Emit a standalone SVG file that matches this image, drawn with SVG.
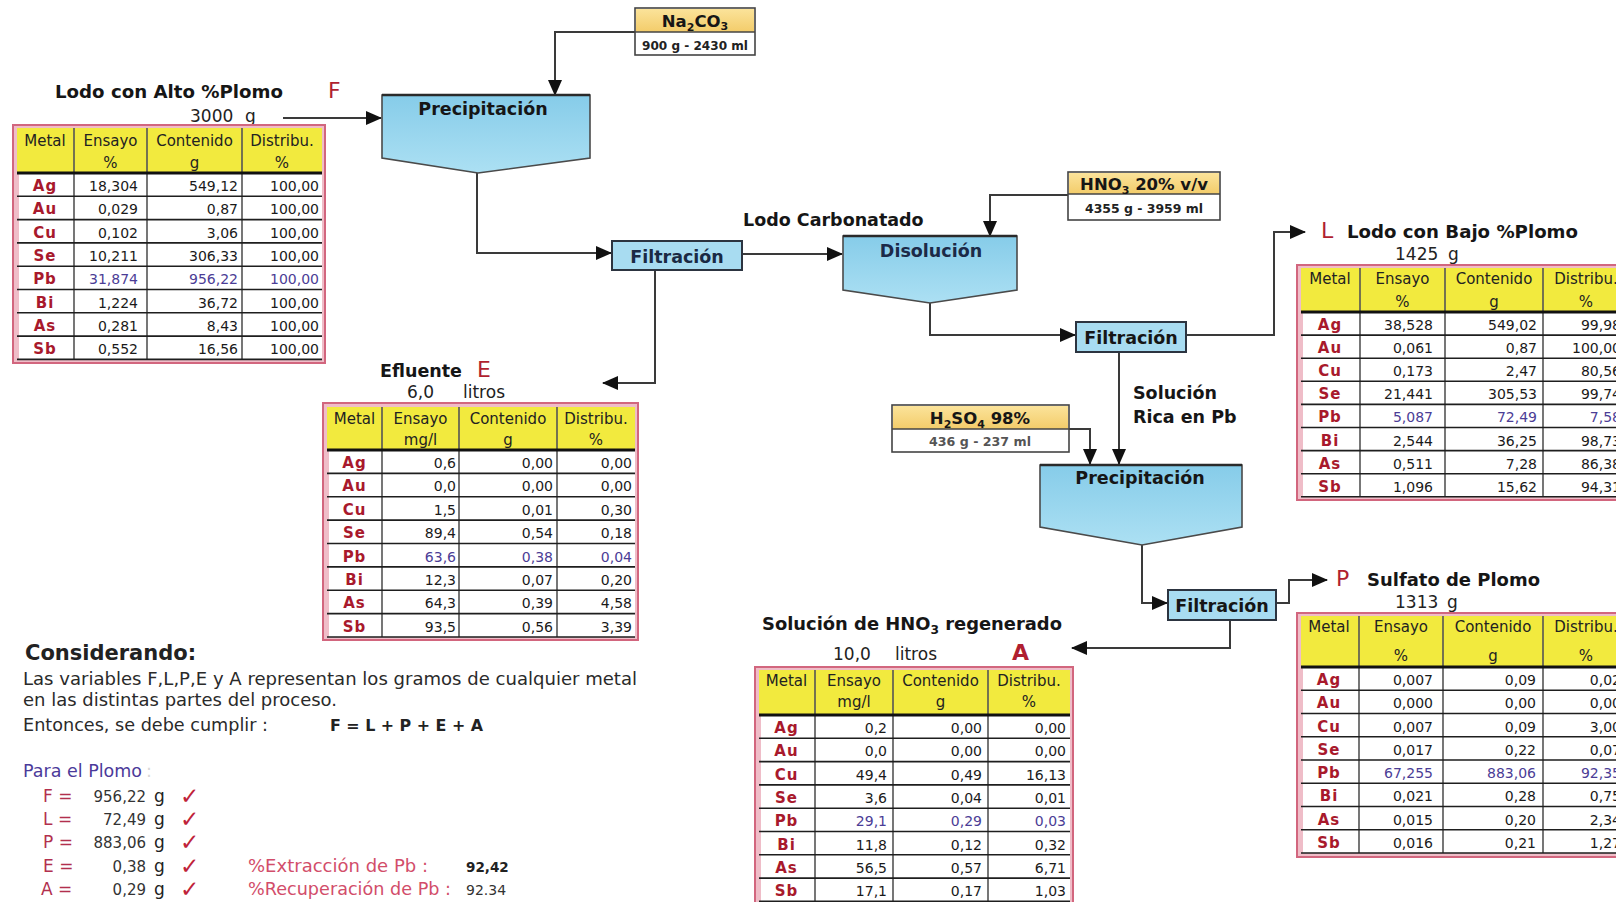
<svg xmlns="http://www.w3.org/2000/svg" width="1616" height="902" viewBox="0 0 1616 902">
<defs>
  <linearGradient id="gAzul" x1="0" y1="0" x2="0" y2="1">
    <stop offset="0" stop-color="#86cce9"/>
    <stop offset="1" stop-color="#ace0f3"/>
  </linearGradient>
  <linearGradient id="gReac" x1="0" y1="0" x2="0" y2="1">
    <stop offset="0" stop-color="#fbe39a"/>
    <stop offset="1" stop-color="#f3cc6a"/>
  </linearGradient>
  <marker id="ah" viewBox="0 0 16 14" refX="15" refY="7" markerWidth="16" markerHeight="14" markerUnits="userSpaceOnUse" orient="auto">
    <path d="M0 0L16 7L0 14z" fill="#111"/>
  </marker>
  <style>
    .ln{fill:none;stroke:#3a3a3a;stroke-width:2}
    .proc{fill:url(#gAzul);stroke:#4a4a4a;stroke-width:1.6}
    .filt{fill:#a8dcf1;stroke:#2c3440;stroke-width:2}
    .reac{fill:#fff;stroke:#444;stroke-width:1.6}
    .reacY{fill:url(#gReac)}
    .bl{font-family:"DejaVu Sans",sans-serif;font-weight:bold;font-size:17.5px;fill:#161616}
    .lt{font-family:"DejaVu Sans",sans-serif;font-size:22px;fill:#b01f30}
    .nm{font-family:"DejaVu Sans",sans-serif;font-size:17px;fill:#222}
    .rs{font-family:"DejaVu Sans",sans-serif;font-weight:bold;font-size:11.5px;fill:#222;text-anchor:middle}
    .frame{fill:#efbdc8;stroke:#d2667e;stroke-width:2}
    .hdr{fill:#f2ea3e}
    .body{fill:#fff}
    .vl{fill:none;stroke:#555;stroke-width:1.6}
    .rl{fill:none;stroke:#1e1e1e;stroke-width:1.6}
    .hl{fill:none;stroke:#111;stroke-width:3}
    .th{font-family:"DejaVu Sans",sans-serif;font-size:15px;fill:#222;text-anchor:middle}
    .mt{font-family:"DejaVu Sans",sans-serif;font-weight:bold;font-size:15px;fill:#a8192c;text-anchor:middle;letter-spacing:1px}
    .v{font-family:"DejaVu Sans",sans-serif;font-size:14px;fill:#1a1a1a;text-anchor:end}
    .pb{fill:#4b3d96}
    .tx{font-family:"DejaVu Sans",sans-serif;font-size:17.5px;fill:#2a2a2a}
    .eq{font-family:"DejaVu Sans",sans-serif;font-size:17px;fill:#b2304e}
    .ok{font-family:"DejaVu Sans",sans-serif;font-weight:bold;font-size:23px;fill:#c0233a}
    .pc{font-family:"DejaVu Sans",sans-serif;font-size:17px;fill:#d24d6a}
  </style>
</defs>
<rect width="1616" height="902" fill="#ffffff"/>

<!-- connectors -->
<g id="conectores">
  <path class="ln" d="M283 118H381" marker-end="url(#ah)"/>
  <path class="ln" d="M635 32H555V95" marker-end="url(#ah)"/>
  <path class="ln" d="M477 173V253H611" marker-end="url(#ah)"/>
  <path class="ln" d="M742 254H842" marker-end="url(#ah)"/>
  <path class="ln" d="M655 271V383H603" marker-end="url(#ah)"/>
  <path class="ln" d="M1068 195H990V236" marker-end="url(#ah)"/>
  <path class="ln" d="M930 303V335H1075" marker-end="url(#ah)"/>
  <path class="ln" d="M1186 335H1274V232H1305" marker-end="url(#ah)"/>
  <path class="ln" d="M1119 352V464" marker-end="url(#ah)"/>
  <path class="ln" d="M1069 429H1090V464" marker-end="url(#ah)"/>
  <path class="ln" d="M1142 545V603H1167" marker-end="url(#ah)"/>
  <path class="ln" d="M1276 603H1289V580H1327" marker-end="url(#ah)"/>
  <path class="ln" d="M1230 620V648H1072" marker-end="url(#ah)"/>
</g>

<!-- process units -->
<g id="precipitacion-1">
  <polygon class="proc" points="382,95 590,95 590,158 478,173 382,158"/>
  <path d="M382 95H590" stroke="#2a2a2a" stroke-width="2.5"/>
  <text class="bl" x="483" y="115" text-anchor="middle">Precipitación</text>
</g>
<g id="filtracion-1">
  <rect class="filt" x="612" y="241" width="130" height="29"/>
  <text class="bl" x="677" y="263" text-anchor="middle" style="fill:#1a2a44">Filtración</text>
</g>
<g id="disolucion">
  <polygon class="proc" points="843,236 1017,236 1017,290 930,303 843,290"/>
  <path d="M843 236H1017" stroke="#2a2a2a" stroke-width="2.5"/>
  <text class="bl" x="931" y="257" text-anchor="middle" style="fill:#1c2a48">Disolución</text>
</g>
<g id="filtracion-2">
  <rect class="filt" x="1076" y="322" width="110" height="30"/>
  <text class="bl" x="1131" y="344" text-anchor="middle">Filtración</text>
</g>
<g id="precipitacion-2">
  <polygon class="proc" points="1040,465 1242,465 1242,527 1142,545 1040,527"/>
  <path d="M1040 465H1242" stroke="#2a2a2a" stroke-width="2.5"/>
  <text class="bl" x="1140" y="484" text-anchor="middle">Precipitación</text>
</g>
<g id="filtracion-3">
  <rect class="filt" x="1168" y="590" width="108" height="30"/>
  <text class="bl" x="1222" y="612" text-anchor="middle">Filtración</text>
</g>

<!-- reagents -->
<g id="reactivo-na2co3">
  <rect class="reac" x="635" y="8" width="120" height="47"/>
  <rect class="reacY" x="636" y="9" width="118" height="23"/>
  <path d="M635 32H755" stroke="#444" stroke-width="1.4"/>
  <text class="bl" x="695" y="27" text-anchor="middle" style="font-size:16.5px">Na<tspan dy="4" font-size="11">2</tspan><tspan dy="-4">CO</tspan><tspan dy="3" font-size="11">3</tspan></text>
  <text class="rs" x="695" y="50" textLength="106" lengthAdjust="spacingAndGlyphs">900 g - 2430 ml</text>
</g>
<g id="reactivo-hno3">
  <rect class="reac" x="1068" y="172" width="152" height="48"/>
  <rect class="reacY" x="1069" y="173" width="150" height="21"/>
  <path d="M1068 194H1220" stroke="#444" stroke-width="1.4"/>
  <text class="bl" x="1144" y="190" text-anchor="middle" style="font-size:16.5px">HNO<tspan dy="4" font-size="11">3</tspan><tspan dy="-4"> 20% v/v</tspan></text>
  <text class="rs" x="1144" y="213" textLength="118" lengthAdjust="spacingAndGlyphs">4355 g - 3959 ml</text>
</g>
<g id="reactivo-h2so4">
  <rect class="reac" x="892" y="405" width="177" height="47"/>
  <rect class="reacY" x="893" y="406" width="175" height="23"/>
  <path d="M892 429H1069" stroke="#444" stroke-width="1.4"/>
  <text class="bl" x="980" y="424" text-anchor="middle" style="font-size:16.5px">H<tspan dy="4" font-size="11">2</tspan><tspan dy="-4">SO</tspan><tspan dy="4" font-size="11">4</tspan><tspan dy="-4"> 98%</tspan></text>
  <text class="rs" x="980" y="446" textLength="102" lengthAdjust="spacingAndGlyphs" style="fill:#555">436 g - 237 ml</text>
</g>

<!-- stream labels -->
<g id="etiquetas">
  <text class="bl" x="55" y="98" textLength="228" lengthAdjust="spacingAndGlyphs">Lodo con Alto %Plomo</text>
  <text class="lt" x="328" y="98">F</text>
  <text class="nm" x="190" y="122">3000</text><text class="nm" x="245" y="122">g</text>
  <text class="bl" x="743" y="226">Lodo Carbonatado</text>
  <text class="lt" x="1321" y="238">L</text>
  <text class="bl" x="1347" y="238" textLength="231" lengthAdjust="spacingAndGlyphs">Lodo con Bajo %Plomo</text>
  <text class="nm" x="1395" y="260">1425</text><text class="nm" x="1448" y="260">g</text>
  <text class="bl" x="380" y="377">Efluente</text>
  <text class="lt" x="477" y="377">E</text>
  <text class="nm" x="407" y="398">6,0</text><text class="nm" x="463" y="398">litros</text>
  <text class="bl" x="1133" y="399">Solución</text>
  <text class="bl" x="1133" y="423">Rica en Pb</text>
  <text class="lt" x="1336" y="586">P</text>
  <text class="bl" x="1367" y="586" textLength="173" lengthAdjust="spacingAndGlyphs">Sulfato de Plomo</text>
  <text class="nm" x="1395" y="608">1313</text><text class="nm" x="1447" y="608">g</text>
  <text class="bl" x="762" y="630" textLength="300" lengthAdjust="spacingAndGlyphs">Solución de HNO<tspan dy="4" font-size="12">3</tspan><tspan dy="-4"> regenerado</tspan></text>
  <text class="nm" x="833" y="660">10,0</text><text class="nm" x="895" y="660">litros</text>
  <text class="lt" x="1012" y="660" font-weight="bold">A</text>
</g>

<!-- table F -->
<g id="tabla-F">
  <rect class="frame" x="13" y="125" width="312" height="238"/>
  <rect class="hdr" x="17" y="128" width="305" height="45"/>
  <rect class="body" x="19" y="173" width="303" height="186"/>
  <path class="vl" d="M74 128V359M147 128V359M242 128V359"/>
  <path class="rl" d="M17 196.3H322M17 219.6H322M17 242.9H322M17 266.2H322M17 289.5H322M17 312.8H322M17 336.1H322M17 359.4H322"/>
  <path class="hl" d="M17 173H322"/>
  <text class="th" x="45" y="146">Metal</text>
  <text class="th" x="110.5" y="146">Ensayo</text><text class="th" x="110.5" y="168">%</text>
  <text class="th" x="194.5" y="146">Contenido</text><text class="th" x="194.5" y="168">g</text>
  <text class="th" x="282" y="146">Distribu.</text><text class="th" x="282" y="168">%</text>
  <g transform="translate(0,173)"><text class="mt" x="45" y="18">Ag</text><text class="v" x="138" y="18">18,304</text><text class="v" x="238" y="18">549,12</text><text class="v" x="319" y="18">100,00</text></g>
  <g transform="translate(0,196.3)"><text class="mt" x="45" y="18">Au</text><text class="v" x="138" y="18">0,029</text><text class="v" x="238" y="18">0,87</text><text class="v" x="319" y="18">100,00</text></g>
  <g transform="translate(0,219.6)"><text class="mt" x="45" y="18">Cu</text><text class="v" x="138" y="18">0,102</text><text class="v" x="238" y="18">3,06</text><text class="v" x="319" y="18">100,00</text></g>
  <g transform="translate(0,242.9)"><text class="mt" x="45" y="18">Se</text><text class="v" x="138" y="18">10,211</text><text class="v" x="238" y="18">306,33</text><text class="v" x="319" y="18">100,00</text></g>
  <g transform="translate(0,266.2)"><text class="mt" x="45" y="18">Pb</text><text class="v pb" x="138" y="18">31,874</text><text class="v pb" x="238" y="18">956,22</text><text class="v pb" x="319" y="18">100,00</text></g>
  <g transform="translate(0,289.5)"><text class="mt" x="45" y="18">Bi</text><text class="v" x="138" y="18">1,224</text><text class="v" x="238" y="18">36,72</text><text class="v" x="319" y="18">100,00</text></g>
  <g transform="translate(0,312.8)"><text class="mt" x="45" y="18">As</text><text class="v" x="138" y="18">0,281</text><text class="v" x="238" y="18">8,43</text><text class="v" x="319" y="18">100,00</text></g>
  <g transform="translate(0,336.1)"><text class="mt" x="45" y="18">Sb</text><text class="v" x="138" y="18">0,552</text><text class="v" x="238" y="18">16,56</text><text class="v" x="319" y="18">100,00</text></g>
</g>

<!-- table E -->
<g id="tabla-E">
  <rect class="frame" x="323" y="403" width="315" height="237"/>
  <rect class="hdr" x="327" y="407" width="308" height="43"/>
  <rect class="body" x="329" y="450" width="306" height="187"/>
  <path class="vl" d="M382 407V637M459 407V637M557 407V637"/>
  <path class="rl" d="M327 473.4H635M327 496.8H635M327 520.1H635M327 543.5H635M327 566.9H635M327 590.3H635M327 613.6H635M327 637H635"/>
  <path class="hl" d="M327 450H635"/>
  <text class="th" x="354.5" y="424">Metal</text>
  <text class="th" x="420.5" y="424">Ensayo</text><text class="th" x="420.5" y="445">mg/l</text>
  <text class="th" x="508" y="424">Contenido</text><text class="th" x="508" y="445">g</text>
  <text class="th" x="596" y="424">Distribu.</text><text class="th" x="596" y="445">%</text>
  <g transform="translate(0,450)"><text class="mt" x="354.5" y="18">Ag</text><text class="v" x="456" y="18">0,6</text><text class="v" x="553" y="18">0,00</text><text class="v" x="632" y="18">0,00</text></g>
  <g transform="translate(0,473.4)"><text class="mt" x="354.5" y="18">Au</text><text class="v" x="456" y="18">0,0</text><text class="v" x="553" y="18">0,00</text><text class="v" x="632" y="18">0,00</text></g>
  <g transform="translate(0,496.8)"><text class="mt" x="354.5" y="18">Cu</text><text class="v" x="456" y="18">1,5</text><text class="v" x="553" y="18">0,01</text><text class="v" x="632" y="18">0,30</text></g>
  <g transform="translate(0,520.1)"><text class="mt" x="354.5" y="18">Se</text><text class="v" x="456" y="18">89,4</text><text class="v" x="553" y="18">0,54</text><text class="v" x="632" y="18">0,18</text></g>
  <g transform="translate(0,543.5)"><text class="mt" x="354.5" y="18">Pb</text><text class="v pb" x="456" y="18">63,6</text><text class="v pb" x="553" y="18">0,38</text><text class="v pb" x="632" y="18">0,04</text></g>
  <g transform="translate(0,566.9)"><text class="mt" x="354.5" y="18">Bi</text><text class="v" x="456" y="18">12,3</text><text class="v" x="553" y="18">0,07</text><text class="v" x="632" y="18">0,20</text></g>
  <g transform="translate(0,590.3)"><text class="mt" x="354.5" y="18">As</text><text class="v" x="456" y="18">64,3</text><text class="v" x="553" y="18">0,39</text><text class="v" x="632" y="18">4,58</text></g>
  <g transform="translate(0,613.6)"><text class="mt" x="354.5" y="18">Sb</text><text class="v" x="456" y="18">93,5</text><text class="v" x="553" y="18">0,56</text><text class="v" x="632" y="18">3,39</text></g>
</g>

<!-- table L -->
<g id="tabla-L">
  <rect class="frame" x="1297" y="265" width="335" height="235"/>
  <rect class="hdr" x="1301" y="268" width="329" height="44"/>
  <rect class="body" x="1303" y="312" width="327" height="185"/>
  <path class="vl" d="M1360 268V497M1445 268V497M1543 268V497"/>
  <path class="rl" d="M1301 335.1H1630M1301 358.2H1630M1301 381.3H1630M1301 404.4H1630M1301 427.5H1630M1301 450.6H1630M1301 473.7H1630M1301 496.8H1630"/>
  <path class="hl" d="M1301 312H1630"/>
  <text class="th" x="1330" y="284">Metal</text>
  <text class="th" x="1402.5" y="284">Ensayo</text><text class="th" x="1402.5" y="307">%</text>
  <text class="th" x="1494" y="284">Contenido</text><text class="th" x="1494" y="307">g</text>
  <text class="th" x="1586" y="284">Distribu.</text><text class="th" x="1586" y="307">%</text>
  <g transform="translate(0,312)"><text class="mt" x="1330" y="18">Ag</text><text class="v" x="1433" y="18">38,528</text><text class="v" x="1537" y="18">549,02</text><text class="v" x="1621" y="18">99,98</text></g>
  <g transform="translate(0,335.1)"><text class="mt" x="1330" y="18">Au</text><text class="v" x="1433" y="18">0,061</text><text class="v" x="1537" y="18">0,87</text><text class="v" x="1621" y="18">100,00</text></g>
  <g transform="translate(0,358.2)"><text class="mt" x="1330" y="18">Cu</text><text class="v" x="1433" y="18">0,173</text><text class="v" x="1537" y="18">2,47</text><text class="v" x="1621" y="18">80,56</text></g>
  <g transform="translate(0,381.3)"><text class="mt" x="1330" y="18">Se</text><text class="v" x="1433" y="18">21,441</text><text class="v" x="1537" y="18">305,53</text><text class="v" x="1621" y="18">99,74</text></g>
  <g transform="translate(0,404.4)"><text class="mt" x="1330" y="18">Pb</text><text class="v pb" x="1433" y="18">5,087</text><text class="v pb" x="1537" y="18">72,49</text><text class="v pb" x="1621" y="18">7,58</text></g>
  <g transform="translate(0,427.5)"><text class="mt" x="1330" y="18">Bi</text><text class="v" x="1433" y="18">2,544</text><text class="v" x="1537" y="18">36,25</text><text class="v" x="1621" y="18">98,73</text></g>
  <g transform="translate(0,450.6)"><text class="mt" x="1330" y="18">As</text><text class="v" x="1433" y="18">0,511</text><text class="v" x="1537" y="18">7,28</text><text class="v" x="1621" y="18">86,38</text></g>
  <g transform="translate(0,473.7)"><text class="mt" x="1330" y="18">Sb</text><text class="v" x="1433" y="18">1,096</text><text class="v" x="1537" y="18">15,62</text><text class="v" x="1621" y="18">94,31</text></g>
</g>

<!-- table P -->
<g id="tabla-P">
  <rect class="frame" x="1297" y="613" width="335" height="244"/>
  <rect class="hdr" x="1301" y="616" width="329" height="51"/>
  <rect class="body" x="1303" y="667" width="327" height="186"/>
  <path class="vl" d="M1359 616V853M1443 616V853M1543 616V853"/>
  <path class="rl" d="M1301 690.3H1630M1301 713.5H1630M1301 736.8H1630M1301 760H1630M1301 783.3H1630M1301 806.5H1630M1301 829.8H1630M1301 853H1630"/>
  <path class="hl" d="M1301 667H1630"/>
  <text class="th" x="1329" y="632">Metal</text>
  <text class="th" x="1401" y="632">Ensayo</text><text class="th" x="1401" y="661">%</text>
  <text class="th" x="1493" y="632">Contenido</text><text class="th" x="1493" y="661">g</text>
  <text class="th" x="1586" y="632">Distribu.</text><text class="th" x="1586" y="661">%</text>
  <g transform="translate(0,667)"><text class="mt" x="1329" y="18">Ag</text><text class="v" x="1433" y="18">0,007</text><text class="v" x="1536" y="18">0,09</text><text class="v" x="1621" y="18">0,02</text></g>
  <g transform="translate(0,690.3)"><text class="mt" x="1329" y="18">Au</text><text class="v" x="1433" y="18">0,000</text><text class="v" x="1536" y="18">0,00</text><text class="v" x="1621" y="18">0,00</text></g>
  <g transform="translate(0,713.5)"><text class="mt" x="1329" y="18">Cu</text><text class="v" x="1433" y="18">0,007</text><text class="v" x="1536" y="18">0,09</text><text class="v" x="1621" y="18">3,00</text></g>
  <g transform="translate(0,736.8)"><text class="mt" x="1329" y="18">Se</text><text class="v" x="1433" y="18">0,017</text><text class="v" x="1536" y="18">0,22</text><text class="v" x="1621" y="18">0,07</text></g>
  <g transform="translate(0,760)"><text class="mt" x="1329" y="18">Pb</text><text class="v pb" x="1433" y="18">67,255</text><text class="v pb" x="1536" y="18">883,06</text><text class="v pb" x="1621" y="18">92,35</text></g>
  <g transform="translate(0,783.3)"><text class="mt" x="1329" y="18">Bi</text><text class="v" x="1433" y="18">0,021</text><text class="v" x="1536" y="18">0,28</text><text class="v" x="1621" y="18">0,75</text></g>
  <g transform="translate(0,806.5)"><text class="mt" x="1329" y="18">As</text><text class="v" x="1433" y="18">0,015</text><text class="v" x="1536" y="18">0,20</text><text class="v" x="1621" y="18">2,34</text></g>
  <g transform="translate(0,829.8)"><text class="mt" x="1329" y="18">Sb</text><text class="v" x="1433" y="18">0,016</text><text class="v" x="1536" y="18">0,21</text><text class="v" x="1621" y="18">1,27</text></g>
</g>

<!-- table A -->
<g id="tabla-A">
  <rect class="frame" x="755" y="667" width="318" height="245"/>
  <rect class="hdr" x="759" y="670" width="311" height="45"/>
  <rect class="body" x="761" y="715" width="309" height="187"/>
  <path class="vl" d="M815 670V902M893 670V902M988 670V902"/>
  <path class="rl" d="M759 738.3H1070M759 761.6H1070M759 784.9H1070M759 808.2H1070M759 831.5H1070M759 854.8H1070M759 878.1H1070M759 901.4H1070"/>
  <path class="hl" d="M759 715H1070"/>
  <text class="th" x="786.5" y="686">Metal</text>
  <text class="th" x="854" y="686">Ensayo</text><text class="th" x="854" y="707">mg/l</text>
  <text class="th" x="940.5" y="686">Contenido</text><text class="th" x="940.5" y="707">g</text>
  <text class="th" x="1029" y="686">Distribu.</text><text class="th" x="1029" y="707">%</text>
  <g transform="translate(0,715)"><text class="mt" x="786.5" y="18">Ag</text><text class="v" x="887" y="18">0,2</text><text class="v" x="982" y="18">0,00</text><text class="v" x="1066" y="18">0,00</text></g>
  <g transform="translate(0,738.3)"><text class="mt" x="786.5" y="18">Au</text><text class="v" x="887" y="18">0,0</text><text class="v" x="982" y="18">0,00</text><text class="v" x="1066" y="18">0,00</text></g>
  <g transform="translate(0,761.6)"><text class="mt" x="786.5" y="18">Cu</text><text class="v" x="887" y="18">49,4</text><text class="v" x="982" y="18">0,49</text><text class="v" x="1066" y="18">16,13</text></g>
  <g transform="translate(0,784.9)"><text class="mt" x="786.5" y="18">Se</text><text class="v" x="887" y="18">3,6</text><text class="v" x="982" y="18">0,04</text><text class="v" x="1066" y="18">0,01</text></g>
  <g transform="translate(0,808.2)"><text class="mt" x="786.5" y="18">Pb</text><text class="v pb" x="887" y="18">29,1</text><text class="v pb" x="982" y="18">0,29</text><text class="v pb" x="1066" y="18">0,03</text></g>
  <g transform="translate(0,831.5)"><text class="mt" x="786.5" y="18">Bi</text><text class="v" x="887" y="18">11,8</text><text class="v" x="982" y="18">0,12</text><text class="v" x="1066" y="18">0,32</text></g>
  <g transform="translate(0,854.8)"><text class="mt" x="786.5" y="18">As</text><text class="v" x="887" y="18">56,5</text><text class="v" x="982" y="18">0,57</text><text class="v" x="1066" y="18">6,71</text></g>
  <g transform="translate(0,878.1)"><text class="mt" x="786.5" y="18">Sb</text><text class="v" x="887" y="18">17,1</text><text class="v" x="982" y="18">0,17</text><text class="v" x="1066" y="18">1,03</text></g>
</g>

<!-- balance notes -->
<g id="balance">
  <text x="25" y="660" style="font-family:'DejaVu Sans',sans-serif;font-weight:bold;font-size:21px;fill:#222">Considerando:</text>
  <text class="tx" x="23" y="685" textLength="614" lengthAdjust="spacingAndGlyphs">Las variables F,L,P,E y A representan los gramos de cualquier metal</text>
  <text class="tx" x="23" y="706" textLength="314" lengthAdjust="spacingAndGlyphs">en las distintas partes del proceso.</text>
  <text class="tx" x="23" y="731" textLength="245" lengthAdjust="spacingAndGlyphs">Entonces, se debe cumplir :</text>
  <text x="330" y="731" textLength="153" lengthAdjust="spacingAndGlyphs" style="font-family:'DejaVu Sans',sans-serif;font-weight:bold;font-size:16px;fill:#222">F = L + P + E + A</text>
  <text class="tx" x="23" y="777" style="fill:#4b3a9a">Para el Plomo</text>
  <text class="tx" x="146" y="777" style="fill:#d8d8d8">:</text>
  <text class="eq" x="43" y="802">F =</text>
  <text class="eq" x="43" y="825">L =</text>
  <text class="eq" x="43" y="848">P =</text>
  <text class="eq" x="43" y="872">E =</text>
  <text class="eq" x="41" y="895">A =</text>
  <text class="v" x="146" y="802" style="font-size:15px;fill:#333">956,22</text>
  <text class="v" x="146" y="825" style="font-size:15px;fill:#333">72,49</text>
  <text class="v" x="146" y="848" style="font-size:15px;fill:#333">883,06</text>
  <text class="v" x="146" y="872" style="font-size:15px;fill:#333">0,38</text>
  <text class="v" x="146" y="895" style="font-size:15px;fill:#333">0,29</text>
  <text class="nm" x="154" y="802">g</text>
  <text class="nm" x="154" y="825">g</text>
  <text class="nm" x="154" y="848">g</text>
  <text class="nm" x="154" y="872">g</text>
  <text class="nm" x="154" y="895">g</text>
  <text class="ok" x="180" y="804">✓</text>
  <text class="ok" x="180" y="827">✓</text>
  <text class="ok" x="180" y="850">✓</text>
  <text class="ok" x="180" y="874">✓</text>
  <text class="ok" x="180" y="897">✓</text>
  <text class="pc" x="248" y="872" textLength="180" lengthAdjust="spacingAndGlyphs">%Extracción de Pb :</text>
  <text class="pc" x="248" y="895" textLength="203" lengthAdjust="spacingAndGlyphs">%Recuperación de Pb :</text>
  <text x="466" y="872" style="font-family:'DejaVu Sans',sans-serif;font-weight:bold;font-size:13.5px;fill:#222">92,42</text>
  <text x="466" y="895" style="font-family:'DejaVu Sans',sans-serif;font-size:14px;fill:#333">92.34</text>
</g>
</svg>
